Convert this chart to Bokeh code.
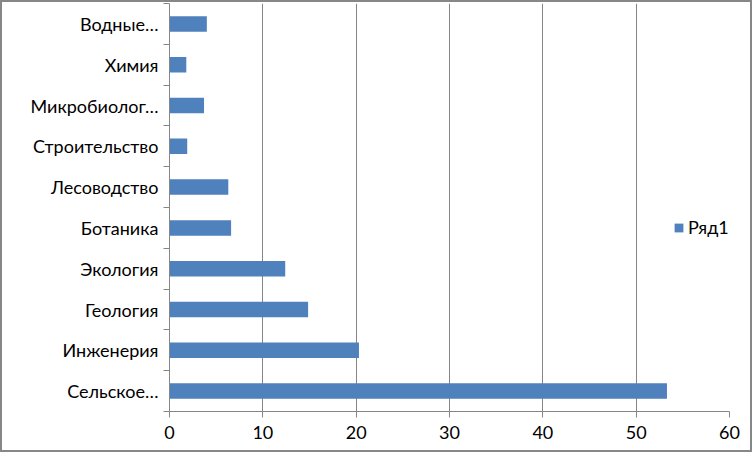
from bokeh.plotting import figure
from bokeh.models import Range1d, FixedTicker, ColumnDataSource, Legend, LegendItem
from bokeh.embed import file_html
from bokeh.resources import INLINE

# Data (bottom to top)
categories = ["Сельское…", "Инженерия", "Геология", "Экология", "Ботаника",
              "Лесоводство", "Строительство", "Микробиолог…", "Химия", "Водные…"]
values = [53.3, 20.3, 14.85, 12.4, 6.6, 6.3, 1.9, 3.7, 1.8, 4.0]
x_ticks = [0, 10, 20, 30, 40, 50, 60]
series_name = "Ряд1"

FONT = "Lato"
GRAY = "#868686"
BAR = "#4F81BD"

n = len(categories)
ypos = [i + 0.5 for i in range(n)]
src = ColumnDataSource(dict(y=ypos, v=values, cat=categories))

p = figure(width=752, height=452, output_backend="svg", toolbar_location=None,
           x_range=Range1d(0, 60), y_range=Range1d(0, n),
           min_border_left=167, min_border_right=25, min_border_top=1, min_border_bottom=43)
p.styles = {"border": "2px solid #878787", "box-sizing": "border-box"}
p.outline_line_color = None
p.background_fill_color = "white"

r = p.hbar(y="y", right="v", left=0, height=0.38, source=src,
           fill_color=BAR, line_color=None)

# x axis
p.xaxis.ticker = FixedTicker(ticks=x_ticks, minor_ticks=[])
p.xaxis.axis_line_color = GRAY
p.xaxis.major_tick_line_color = GRAY
p.xaxis.major_tick_out = 6
p.xaxis.major_tick_in = 0
p.xaxis.minor_tick_line_color = None
p.xaxis.major_label_text_font = FONT
p.xaxis.major_label_text_font_size = "18px"
p.xaxis.major_label_text_color = "black"
p.xaxis.major_label_standoff = 8

# y axis: labels at centers, ticks at boundaries
p.yaxis.ticker = FixedTicker(ticks=ypos, minor_ticks=list(range(n + 1)))
p.yaxis.major_label_overrides = {y: c for y, c in zip(ypos, categories)}
p.yaxis.axis_line_color = GRAY
p.yaxis.major_tick_line_color = None
p.yaxis.minor_tick_line_color = GRAY
p.yaxis.minor_tick_out = 6
p.yaxis.minor_tick_in = 0
p.yaxis.major_label_text_font = FONT
p.yaxis.major_label_text_font_size = "18px"
p.yaxis.major_label_text_color = "black"
p.yaxis.major_label_standoff = 5

p.xgrid.ticker = FixedTicker(ticks=x_ticks)
p.xgrid.grid_line_color = GRAY
p.ygrid.grid_line_color = None

legend = Legend(items=[LegendItem(label=series_name, renderers=[r])],
                location=(504, 173), orientation="vertical")
legend.background_fill_alpha = 0
legend.border_line_color = None
legend.padding = 0
legend.margin = 0
legend.spacing = 0
legend.glyph_width = 11
legend.glyph_height = 11
legend.label_standoff = 4
legend.label_text_font = FONT
legend.label_text_font_size = "18px"
legend.label_text_color = "black"
p.add_layout(legend)

open("out.html", "w").write(file_html(p, INLINE))
